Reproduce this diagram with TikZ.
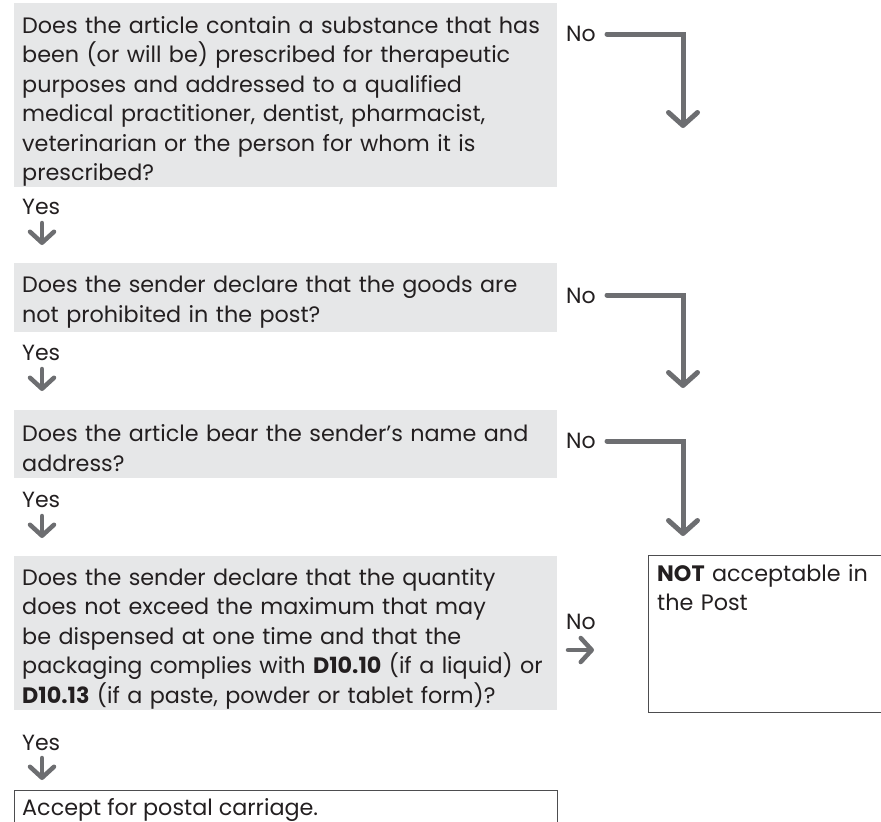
\documentclass[tikz,border=0pt]{standalone}
\usepackage{fontspec}
\setmainfont{Poppins}
\usetikzlibrary{arrows.meta}
\definecolor{boxgray}{HTML}{E6E7E8}
\definecolor{arrgray}{HTML}{6D6E71}
\definecolor{txt}{HTML}{231F20}
\definecolor{frame}{HTML}{4D4D4F}
\tikzset{
  qbox/.style={fill=boxgray, anchor=north west, text width=527pt, inner xsep=8pt, inner ysep=0pt, align=left,
     font=\fontsize{22.3}{29.5}\selectfont, text=txt},
  lbl/.style={font=\fontsize{22}{24}\selectfont, text=txt, inner sep=0pt},
  flow/.style={draw=arrgray, line width=5pt, line cap=round, line join=miter,
     -{Straight Barb[length=13pt,width=29pt,line cap=round,line join=round]}},
  small/.style={draw=arrgray, line width=4.5pt, line cap=round,
     -{Straight Barb[length=11pt,width=24pt,line cap=round,line join=round]}},
  endbox/.style={draw=frame, line width=1.3pt, anchor=north west, align=left, inner sep=0pt,
     font=\fontsize{22.3}{29.5}\selectfont, text=txt}
}
\begin{document}
\begin{tikzpicture}[x=1pt,y=-1pt]
\useasboundingbox (0,0) rectangle (881,822);
% question boxes
\node[qbox, minimum height=184pt] (q1) at (14,3) {\rule{0pt}{29pt}Does the article contain a substance that has\\
been (or will be) prescribed for therapeutic\\
purposes and addressed to a qualified\\
medical practitioner, dentist, pharmacist,\\
veterinarian or the person for whom it is\\
prescribed?};
\node[qbox, minimum height=69pt] (q2) at (14,263) {\rule{0pt}{25pt}Does the sender declare that the goods are\\
not prohibited in the post?};
\node[qbox, minimum height=68pt] (q3) at (14,410) {\rule{0pt}{25pt}Does the article bear the sender's name and\\
address?};
\node[qbox, minimum height=154pt] (q4) at (14,556) {\rule{0pt}{28pt}Does the sender declare that the quantity\\
does not exceed the maximum that may\\
be dispensed at one time and that the\\
packaging complies with \textbf{D10.10} (if a liquid) or\\
\textbf{D10.13} (if a paste, powder or tablet form)?};
% end boxes
\node[endbox, minimum width=240pt, minimum height=157pt] (rej) at (648,555) {};
\node[anchor=north west, font=\fontsize{22.3}{29.5}\selectfont, text=txt, align=left, inner sep=0pt, text width=220pt] (rejt) at (657,564) {\textbf{NOT} acceptable in\\the Post};
\node[endbox, minimum width=543pt, minimum height=45pt] (acc) at (14,790) {};
\node[anchor=west, font=\fontsize{22.3}{24}\selectfont, text=txt, inner sep=0pt] (acct) at (22,810) {Accept for postal carriage.};
% labels
\node[lbl, anchor=west] (no1) at (566,34) {No};
\node[lbl, anchor=west] (no2) at (566,296) {No};
\node[lbl, anchor=west] (no3) at (566,441) {No};
\node[lbl, anchor=west] (no4) at (566,622) {No};
\node[lbl, anchor=west] (yes1) at (22,207) {Yes};
\node[lbl, anchor=west] (yes2) at (22,353) {Yes};
\node[lbl, anchor=west] (yes3) at (22,500) {Yes};
\node[lbl, anchor=west] (yes4) at (22,743) {Yes};
% coordinates
\coordinate (s1) at (607,34);  \coordinate (t1) at (683,128);
\coordinate (s2) at (607,295); \coordinate (t2) at (683,388);
\coordinate (s3) at (607,441); \coordinate (t3) at (683,536);
\coordinate (r0) at (568,650); \coordinate (r1) at (594,650);
\coordinate (y1a) at (42,223); \coordinate (y1b) at (42,245);
\coordinate (y2a) at (42,369); \coordinate (y2b) at (42,391);
\coordinate (y3a) at (42,516); \coordinate (y3b) at (42,538);
\coordinate (y4a) at (42,758); \coordinate (y4b) at (42,780);
% connectors
\draw[flow] (s1) -| (t1);
\draw[flow] (s2) -| (t2);
\draw[flow] (s3) -| (t3);
\draw[small] (r0) -- (r1);
\draw[small] (y1a) -- (y1b);
\draw[small] (y2a) -- (y2b);
\draw[small] (y3a) -- (y3b);
\draw[small] (y4a) -- (y4b);
\end{tikzpicture}
\end{document}
